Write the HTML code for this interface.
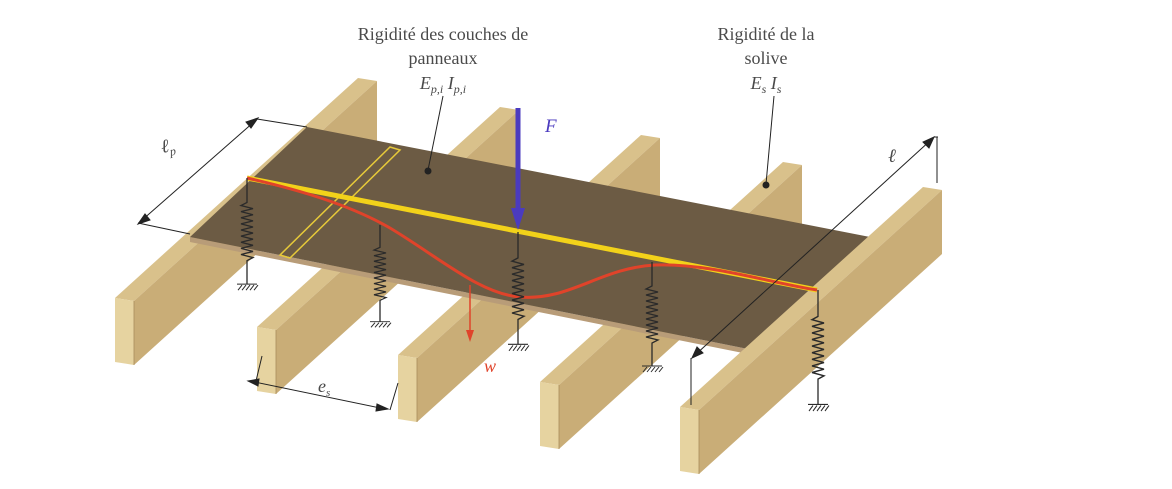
<!DOCTYPE html>
<html><head><meta charset="utf-8"><style>
html,body{margin:0;padding:0;background:#fff;}
svg{display:block;}
text{font-family:"Liberation Serif",serif;fill:#4a4a4a;}
</style></head><body>
<svg width="1172" height="489" viewBox="0 0 1172 489" xmlns="http://www.w3.org/2000/svg">
<defs>
<g id="joist">
  <polygon points="0,0 19,3 262,-217 243,-220" fill="#d9c18b"/>
  <polygon points="19,3 262,-217 262,-153 19,67" fill="#c9ad77"/>
  <polygon points="0,0 19,3 19,67 0,64" fill="#e6d3a0"/>
  <line x1="19" y1="3" x2="19" y2="67" stroke="#a88d5c" stroke-width="0.8"/>
</g>
<g id="spring" fill="none" stroke="#2a2a2a" stroke-width="1.3">
  <path d="M0,0 V24 L-6,27 L6,30 L-6,33 L6,36 L-6,39 L6,42 L-6,45 L6,48 L-6,51 L6,54 L-6,57 L6,60 L-6,63 L6,66 L-6,69 L6,72 L-6,75 L6,78 L0,81 V104"/>
  <path d="M-10,104 H10 M-9,110 L-5,105 M-5,110 L-1,105 M-1,110 L3,105 M3,110 L7,105 M7,110 L11,105" stroke-width="1"/>
</g>
</defs>

<!-- joists -->
<use href="#joist" transform="translate(115,298)"/>
<use href="#joist" transform="translate(257,327)"/>
<use href="#joist" transform="translate(398,355)"/>
<use href="#joist" transform="translate(540,382)"/>

<!-- panel -->
<polygon points="190,237 753,350 753,355 190,242" fill="#b89c78"/>
<polygon points="190,237 307,127 870,237 753,350" fill="#6c5b44"/>

<use href="#joist" transform="translate(680,407)"/>

<!-- yellow strip outline -->
<polygon points="390,147 400,150 290,258 280,255" fill="none" stroke="#e6c93a" stroke-width="1.5"/>

<!-- yellow beam -->
<line x1="247" y1="178" x2="817" y2="290" stroke="#f2d21a" stroke-width="5"/>
<!-- red deflection -->
<path d="M247,178 C300,190 350,205 390,228 C440,258 480,294 520,297 C570,301 600,268 655,265 C710,263 770,283 817,290" fill="none" stroke="#e0432a" stroke-width="3"/>

<!-- springs -->
<use href="#spring" transform="translate(247,178) scale(1,1.02)"/>
<use href="#spring" transform="translate(380,225) scale(1,0.93)"/>
<use href="#spring" transform="translate(518,232) scale(1,1.08)"/>
<use href="#spring" transform="translate(652,262) scale(1,1.0)"/>
<use href="#spring" transform="translate(818,290) scale(1,1.1)"/>

<!-- force F -->
<line x1="518" y1="108" x2="518" y2="212" stroke="#4b3bbf" stroke-width="5"/>
<polygon points="511,208 525,208 518,230" fill="#4b3bbf"/>
<text x="545" y="132" font-size="19" font-style="italic" style="fill:#4b3bbf">F</text>

<!-- w arrow -->
<line x1="470" y1="285" x2="470" y2="335" stroke="#e0432a" stroke-width="1.5"/>
<polygon points="466,330 474,330 470,342" fill="#e0432a"/>
<text x="484" y="372" font-size="18" font-style="italic" style="fill:#e0432a">w</text>

<!-- dimensions -->
<g stroke="#222" stroke-width="1" fill="#222">
<line x1="138" y1="223" x2="190" y2="234"/>
<line x1="257" y1="119" x2="307" y2="127"/>
<line x1="141" y1="221" x2="255" y2="121"/>
<polygon points="138,224 150,220 145,214"/>
<polygon points="258,118 246,122 251,128"/>
<line x1="694" y1="356" x2="932" y2="139"/>
<polygon points="692,358 697,347 703,353"/>
<polygon points="934,137 929,148 923,142"/>
<line x1="934" y1="137" x2="938" y2="137"/>
<line x1="937" y1="137" x2="937" y2="183"/>
<line x1="691" y1="358" x2="691" y2="405"/>
<line x1="250" y1="381" x2="385" y2="409"/>
<polygon points="248,381 259,379 258,386"/>
<polygon points="388,409 377,404 376,411"/>
<line x1="256" y1="381" x2="262" y2="356"/>
<line x1="390" y1="410" x2="398" y2="383"/>
<line x1="443" y1="96" x2="428" y2="170"/>
<circle cx="428" cy="171" r="3"/>
<line x1="774" y1="96" x2="766" y2="184"/>
<circle cx="766" cy="185" r="3"/>
</g>

<text x="162" y="153" font-size="19" font-style="italic" transform="rotate(-10 162 153)">ℓ<tspan font-size="12" dy="4">p</tspan></text>
<text x="888" y="162" font-size="19" font-style="italic">ℓ</text>
<text x="318" y="392" font-size="18" font-style="italic">e<tspan font-size="11" dy="4">s</tspan></text>

<!-- labels -->
<text x="443" y="40" font-size="18" text-anchor="middle">Rigidité des couches de</text>
<text x="443" y="64" font-size="18" text-anchor="middle">panneaux</text>
<text x="443" y="89" font-size="18" text-anchor="middle" font-style="italic">E<tspan font-size="12" dy="4">p,i</tspan><tspan dy="-4"> I</tspan><tspan font-size="12" dy="4">p,i</tspan></text>
<text x="766" y="40" font-size="18" text-anchor="middle">Rigidité de la</text>
<text x="766" y="64" font-size="18" text-anchor="middle">solive</text>
<text x="766" y="89" font-size="18" text-anchor="middle" font-style="italic">E<tspan font-size="12" dy="4">s</tspan><tspan dy="-4"> I</tspan><tspan font-size="12" dy="4">s</tspan></text>
</svg>
</body></html>
